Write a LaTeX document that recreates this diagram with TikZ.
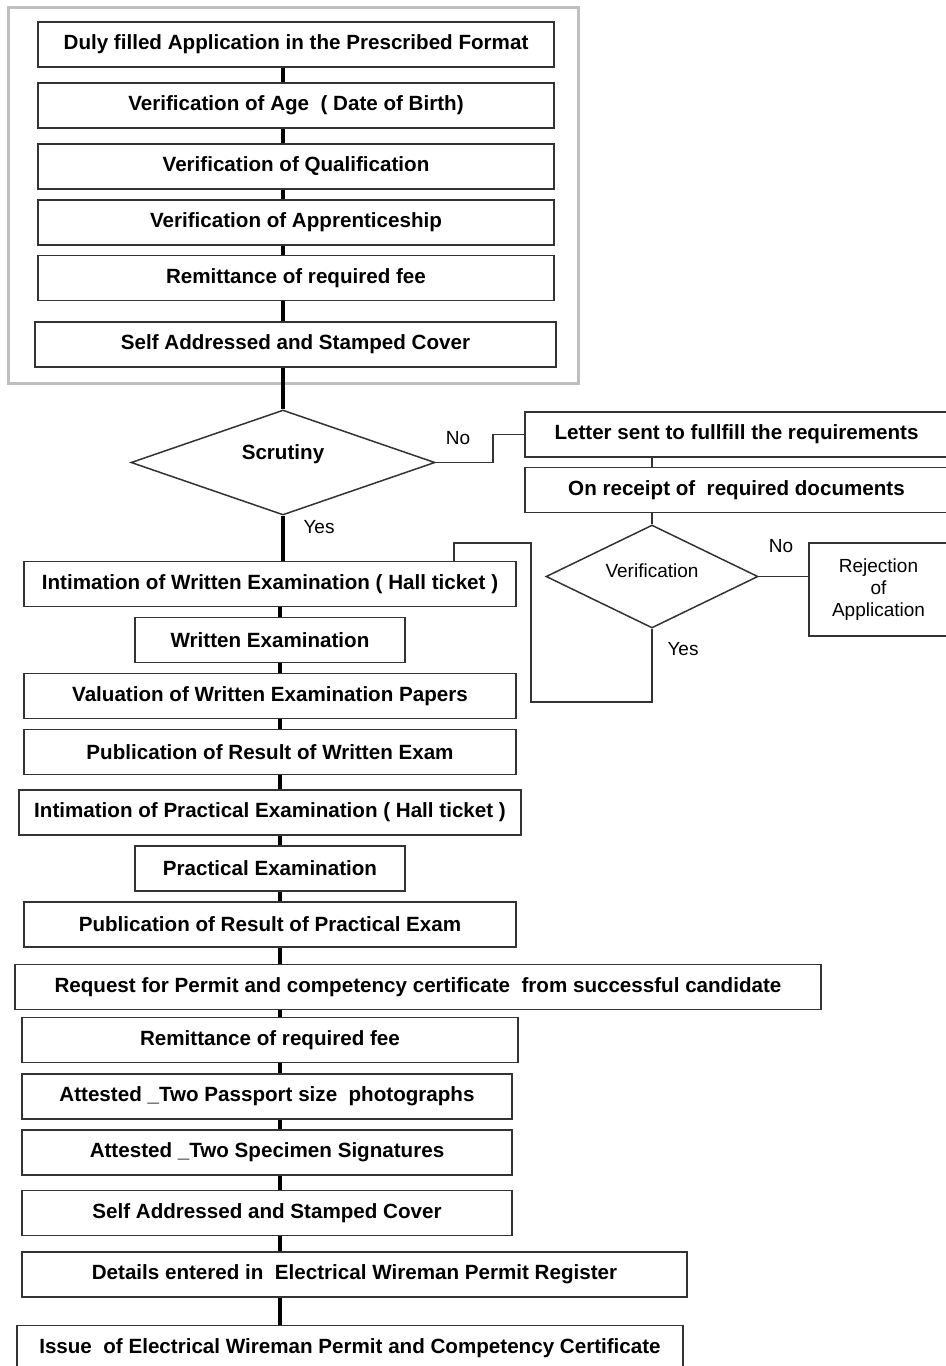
\documentclass[tikz,border=0pt]{standalone}
\usepackage{fontspec}
\setmainfont{Liberation Sans}
\usetikzlibrary{shapes.geometric}

\begin{document}
\begin{tikzpicture}[x=0.5pt, y=-0.5pt,
    box/.style={draw=black!80, line width=0.75pt, minimum height=22.5pt, inner sep=0pt,
                font=\bfseries\fontsize{10.3}{12}\selectfont},
    decision/.style={diamond, draw=black!80, line width=0.75pt, inner sep=0pt},
    trunk/.style={line width=1.6pt},
    branch/.style={draw=black!80, line width=0.75pt},
    answer/.style={font=\fontsize{9.5}{11}\selectfont}]
    \useasboundingbox (0,0) rectangle (946,1366);

    % 1. The grey frame round the application documents
    \draw[black!25, line width=1.5pt] (8,7) rectangle (578,383);

    % 2. Documents sent with the application
    \node[box, minimum width=258pt] (b1) at (296,44.5) {Duly filled Application in the Prescribed Format};
    \node[box, minimum width=258pt] (b2) at (296,105.5) {Verification of Age~~( Date of Birth)};
    \node[box, minimum width=258pt] (b3) at (296,166.5) {Verification of Qualification};
    \node[box, minimum width=258pt] (b4) at (296,222.5) {Verification of Apprenticeship};
    \node[box, minimum width=258pt] (b5) at (296,278) {Remittance of required fee};
    \node[box, minimum width=260.5pt] (b6) at (295.5,344.5) {Self Addressed and Stamped Cover};
    \coordinate (upper) at (283,0);
    \coordinate (lower) at (280,0);

    % 3. Scrutiny and the branch for missing documents
    \node[decision, minimum width=152pt, minimum height=52.5pt,
          label={[yshift=4pt, font=\bfseries\fontsize{10.3}{12}\selectfont]center:Scrutiny}] (scr) at (283,462.5) {};
    \node[box, minimum width=211.5pt] (letter) at (736.5,434.5) {Letter sent to fullfill the requirements};
    \node[box, minimum width=211.5pt] (receipt) at (736.5,490) {On receipt of~~required documents};
    \node[decision, minimum width=106pt, minimum height=51.5pt,
          label={[yshift=3pt, answer]center:Verification}] (ver) at (652,576.5) {};
    \node[box, minimum width=69.5pt, minimum height=46.5pt, align=center,
          font=\fontsize{9.5}{11}\selectfont] (rej) at (878.5,589.5) {Rejection\\of\\Application};

    % 4. Written and practical examinations
    \node[box, minimum width=246pt] (b7) at (270,584) {Intimation of Written Examination ( Hall ticket )};
    \node[box, minimum width=135pt] (b8) at (270,640) {Written Examination};
    \node[box, minimum width=246pt] (b9) at (270,696) {Valuation of Written Examination Papers};
    \node[box, minimum width=246pt] (b10) at (270,752) {Publication of Result of Written Exam};
    \node[box, minimum width=251pt] (b11) at (270,812.5) {Intimation of Practical Examination ( Hall ticket )};
    \node[box, minimum width=135pt] (b12) at (270,868.5) {Practical Examination};
    \node[box, minimum width=246pt] (b13) at (270,924.5) {Publication of Result of Practical Exam};

    % 5. Permit and certificate
    \node[box, minimum width=403pt] (b14) at (418,987) {Request for Permit and competency certificate~~from successful candidate};
    \node[box, minimum width=248pt] (b15) at (270,1040) {Remittance of required fee};
    \node[box, minimum width=245pt] (b16) at (267,1096.5) {Attested \_Two Passport size~~photographs};
    \node[box, minimum width=245pt] (b17) at (267,1152.5) {Attested \_Two Specimen Signatures};
    \node[box, minimum width=245pt] (b18) at (267,1213) {Self Addressed and Stamped Cover};
    \node[box, minimum width=332.5pt] (b19) at (354.5,1274.5) {Details entered in~~Electrical Wireman Permit Register};
    \node[box, minimum width=333pt] (b20) at (350,1348) {Issue~~of Electrical Wireman Permit and Competency Certificate};

    % 6. Connectors
    \foreach \a/\b in {b1/b2, b2/b3, b3/b4, b4/b5, b5/b6}
        \draw[trunk] (\a.south -| upper) -- (\b.north -| upper);
    \draw[trunk] (b6.south -| upper) -- (scr.north);
    \draw[trunk] (scr.south) -- (b7.north -| scr.south);
    \foreach \a/\b in {b7/b8, b8/b9, b9/b10, b10/b11, b11/b12, b12/b13, b13/b14,
                       b14/b15, b15/b16, b16/b17, b17/b18, b18/b19, b19/b20}
        \draw[trunk] (\a.south -| lower) -- (\b.north -| lower);

    \draw[branch] (scr.east) -- ++(57,0) |- (letter.west);
    \draw[branch] (letter.south -| ver.north) -- (receipt.north -| ver.north);
    \draw[branch] (receipt.south -| ver.north) -- (ver.north);
    \draw[branch] (ver.east) -- (ver.east -| rej.west);
    \draw[branch] (ver.south) |- (531,702) |- (454,543) -- (b7.north -| 454,543);

    % 7. Yes / No
    \node[answer] (noA) at (458,438) {No};
    \node[answer] (yesA) at (319,527) {Yes};
    \node[answer] (noB) at (781,546) {No};
    \node[answer] (yesB) at (683,649) {Yes};
\end{tikzpicture}
\end{document}
